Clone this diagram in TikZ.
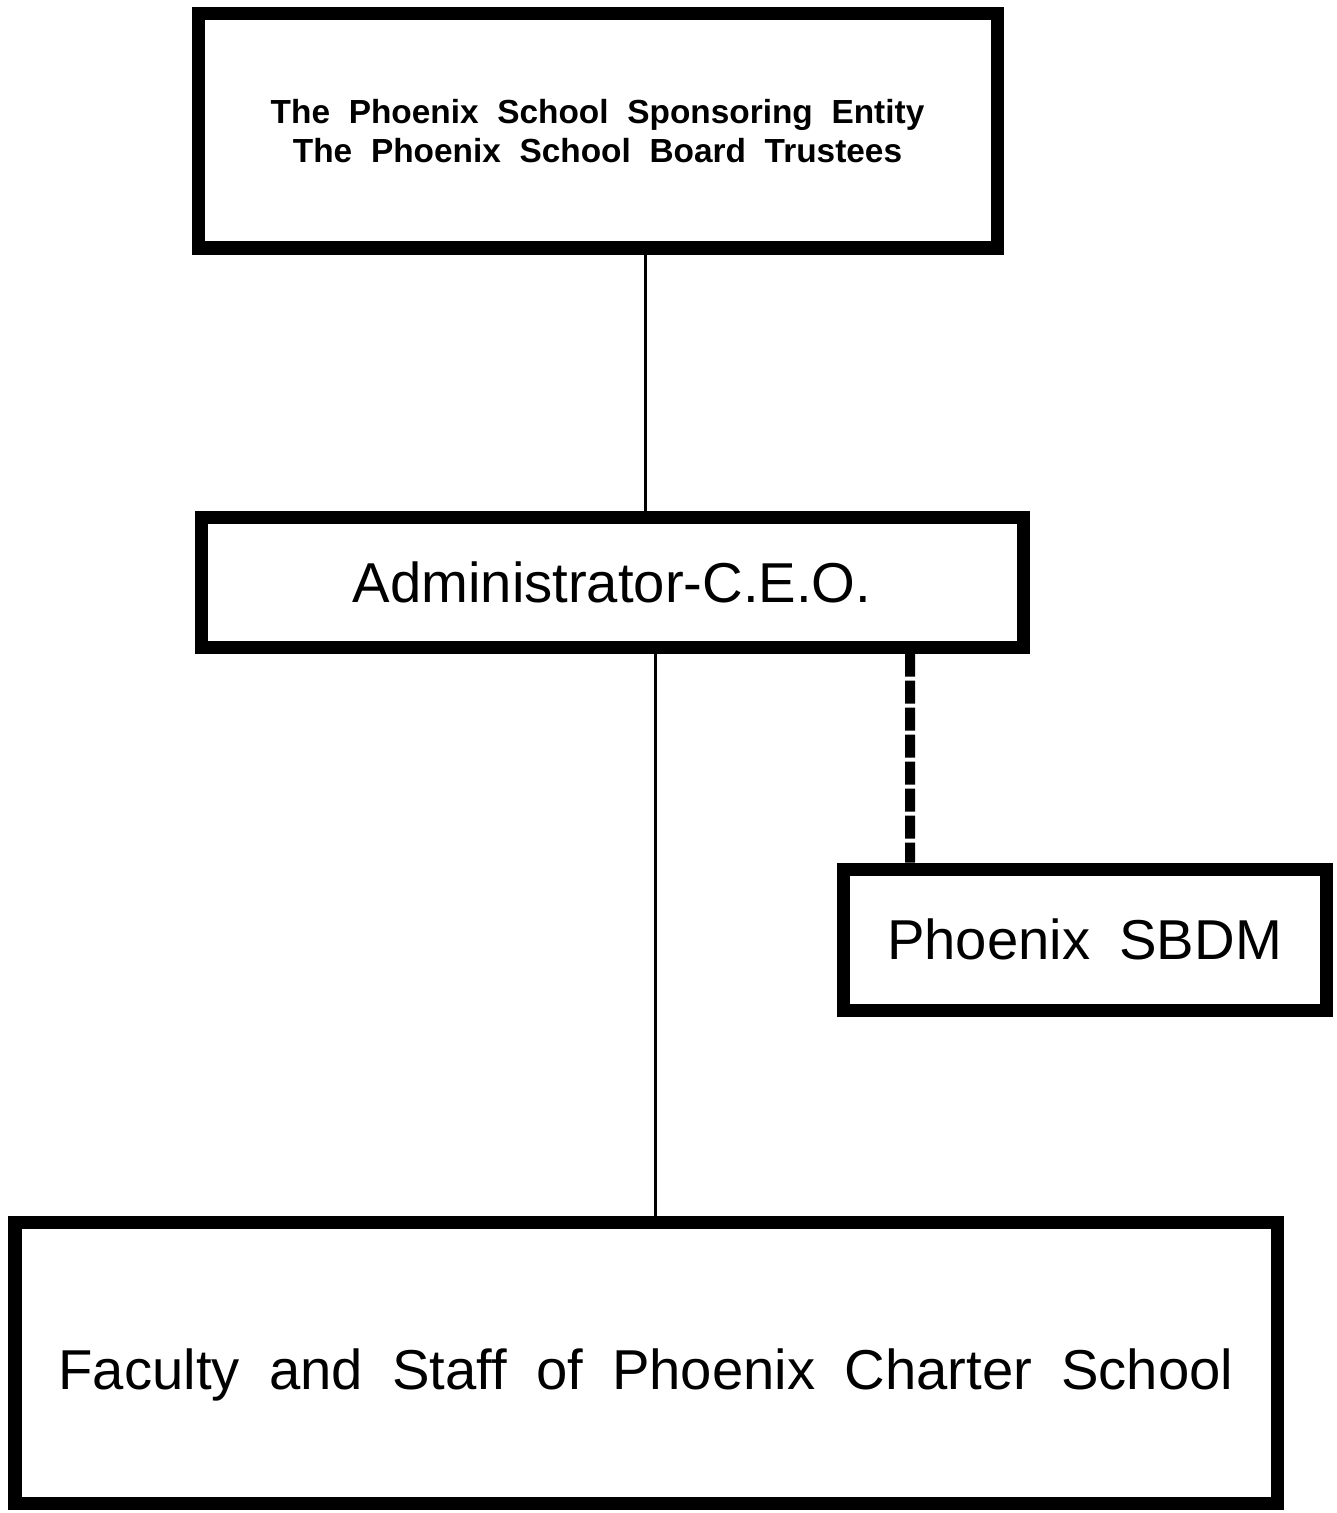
\documentclass[tikz,border=0pt]{standalone}
\usepackage{fontspec}
\setmainfont{Liberation Sans}
\usepackage{tikz}
\usetikzlibrary{positioning, calc}
\newcommand{\orgfont}{\fontsize{32}{38}\selectfont\spaceskip=0.52em\relax}
\newcommand{\boardfont}{\fontsize{19}{22}\selectfont\bfseries\spaceskip=0.56em\relax}

\begin{document}
\begin{tikzpicture}[
  orgbox/.style={rectangle, draw=black, line width=7.4pt, inner sep=0pt,
              align=center, font=\orgfont},
  boardbox/.style={orgbox, font=\boardfont},
  link/.style={draw=black, line width=1.7pt},
  advise/.style={draw=black, line width=5.7pt, dash pattern=on 0.46cm off 0.08cm},
]
  \useasboundingbox (0,0) rectangle (26.74,-30.26);

  \node[boardbox, minimum width=15.98cm, minimum height=4.68cm] (board) at (11.95,-2.62)
    {The Phoenix School Sponsoring Entity\\The Phoenix School Board Trustees};
  \node[orgbox, minimum width=16.44cm, minimum height=2.6cm] (ceo) at (12.24,-11.64)
    {Administrator-C.E.O.};
  \node[orgbox, minimum width=9.66cm, minimum height=2.82cm] (sbdm) at (21.69,-18.79)
    {Phoenix SBDM};
  \node[orgbox, minimum width=25.24cm, minimum height=5.62cm, text height=37pt] (staff) at (12.92,-27.26)
    {Faculty and Staff of Phoenix Charter School};

  \draw[link] ([xshift=0.95cm]board.south) -- ([xshift=0.95cm]board.south |- ceo.north);
  \draw[link] ([xshift=0.86cm]ceo.south) -- ([xshift=0.86cm]ceo.south |- staff.north);
  \draw[advise] ([xshift=5.96cm]ceo.south) -- ([xshift=-3.49cm]sbdm.north);
\end{tikzpicture}
\end{document}
